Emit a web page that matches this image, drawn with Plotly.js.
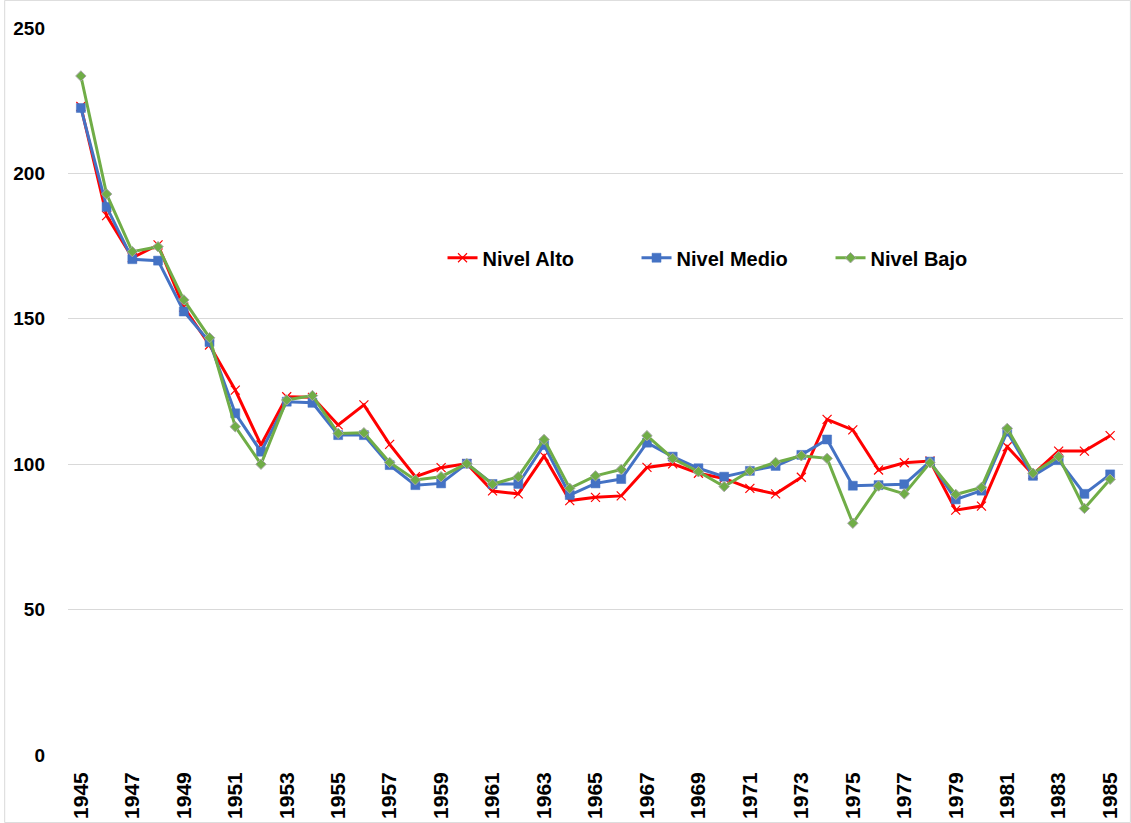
<!DOCTYPE html>
<html>
<head>
<meta charset="utf-8">
<script src="https://cdn.plot.ly/plotly-3.0.1.min.js"></script>
<style>html,body{margin:0;padding:0;background:#fff;}#chart{width:1131px;height:823px;}</style>
</head>
<body>
<div id="chart"></div>
<script>
const years = [1945,1946,1947,1948,1949,1950,1951,1952,1953,1954,1955,1956,1957,1958,1959,1960,1961,1962,1963,1964,1965,1966,1967,1968,1969,1970,1971,1972,1973,1974,1975,1976,1977,1978,1979,1980,1981,1982,1983,1984,1985];
const nivelAlto = [223,185.5,171,175.4,154,141,125.5,106.6,123.2,123,113.5,120.4,106.8,95.7,98.8,100.2,90.8,89.8,102.8,87.5,88.6,89.1,98.9,100.1,96.9,95.1,91.7,89.8,95.5,115.4,111.8,98,100.5,101.1,84.2,85.6,106,96.5,104.5,104.5,109.8];
const nivelMedio = [222.5,188.5,170.5,170,152.5,142,117.5,104.3,121.5,121.1,110,110,99.7,92.8,93.4,100.2,93.2,93.2,106.6,89.4,93.4,94.9,107.4,102.6,98.6,95.7,97.7,99.4,103.2,108.5,92.6,92.8,93.1,100.9,87.9,90.9,111.2,96,101.4,89.8,96.5];
const nivelBajo = [233.5,192.9,173.1,174.8,156.5,143.5,112.9,100,122.1,123.6,110.6,110.8,100.6,94.6,95.7,100.2,93.1,95.7,108.5,91.7,96,98.2,109.8,102,97.4,92.3,97.7,100.6,102.9,102,79.7,92.5,89.8,100.5,89.6,92,112.3,96.9,102.6,84.8,94.8];
const tickYears = years.filter((y,i)=>i%2===0);

const font = "Liberation Sans, Arial, sans-serif";
const traces = [
  {x: years, y: nivelAlto, name: 'Nivel Alto', mode: 'lines+markers', line: {color: '#FF0000', width: 3},
   marker: {symbol: 'x-thin', size: 9, color: '#FF0000', line: {color: '#FF0000', width: 1.2}}},
  {x: years, y: nivelMedio, name: 'Nivel Medio', mode: 'lines+markers', line: {color: '#4472C4', width: 3},
   marker: {symbol: 'square', size: 9, color: '#4472C4', line: {color: '#4472C4', width: 0.5}}},
  {x: years, y: nivelBajo, name: 'Nivel Bajo', mode: 'lines+markers', line: {color: '#70AD47', width: 3},
   marker: {symbol: 'diamond', size: 8, color: '#70AD47', line: {color: '#A5A5A5', width: 1}}}
];
const layout = {
  width: 1131, height: 823,
  margin: {l: 68, r: 8, t: 28, b: 68},
  paper_bgcolor: '#fff', plot_bgcolor: '#fff',
  showlegend: true,
  legend: {orientation: 'h', x: 0.355, y: 0.684, xanchor: 'left', yanchor: 'middle',
    font: {family: font, size: 20, color: '#000', weight: 'bold'}, entrywidth: 149, bgcolor: 'rgba(0,0,0,0)'},
  xaxis: {range: [1944.5, 1985.5], tickmode: 'array', tickvals: tickYears, ticktext: tickYears.map(String),
    tickangle: -90, showgrid: false, zeroline: false, showline: false, ticks: '', ticklabelstandoff: 12,
    tickfont: {family: font, size: 21, color: '#000', weight: 'bold'}},
  yaxis: {range: [0, 250], dtick: 50, showgrid: true, gridcolor: '#D9D9D9', gridwidth: 1, zeroline: false,
    showline: false, ticks: '', ticklabelstandoff: 22, tickfont: {family: font, size: 19, color: '#000', weight: 'bold'}},
  shapes: [{type: 'rect', xref: 'paper', yref: 'paper', x0: -0.06, x1: 1.007, y0: -0.093, y1: 1.038,
    line: {color: '#D9D9D9', width: 1}, fillcolor: 'rgba(0,0,0,0)'}]
};
Plotly.newPlot('chart', traces, layout, {displayModeBar: false, staticPlot: true});
</script>
</body>
</html>
